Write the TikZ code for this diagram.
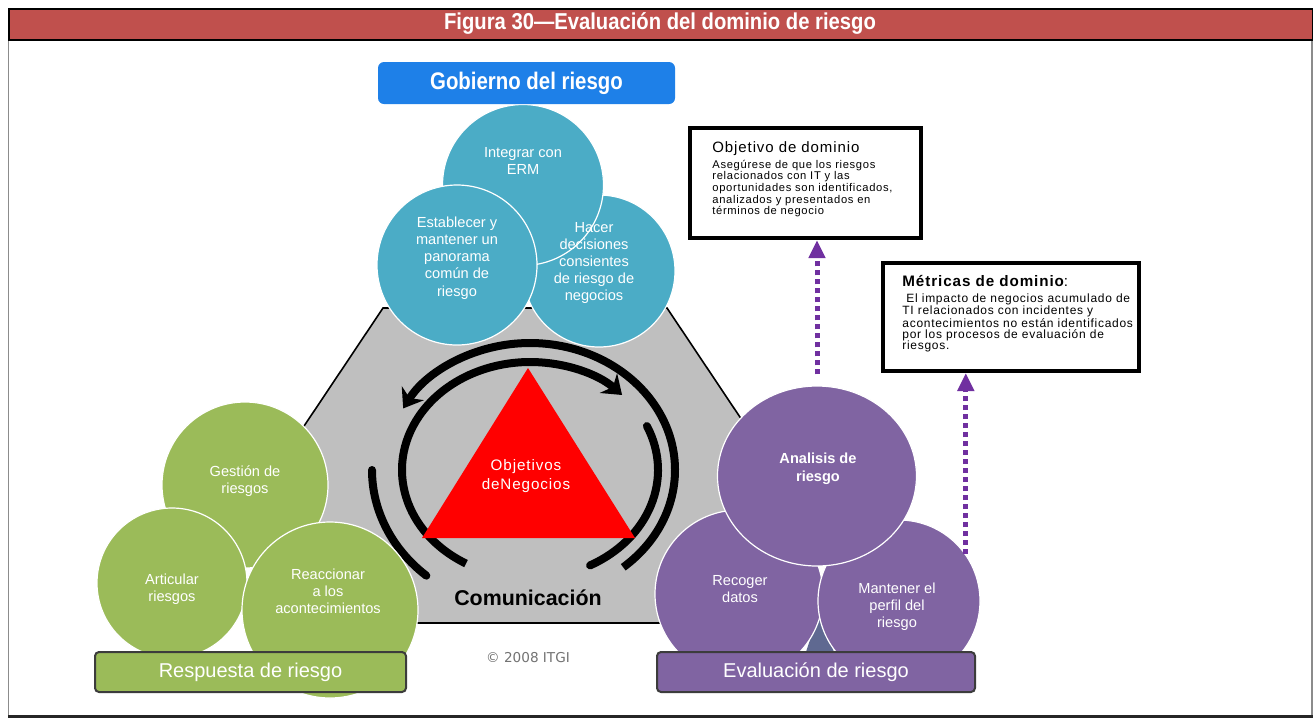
\documentclass[tikz,border=0pt]{standalone}
\usepackage{fontspec}
\setmainfont{Liberation Sans}
\newfontfamily\dejavu{DejaVu Sans}
\newfontfamily\spaced[LetterSpace=6.0]{Liberation Sans}
\usetikzlibrary{arrows.meta,shapes.geometric}
\definecolor{titlered}{RGB}{192,80,77}
\definecolor{gobblue}{RGB}{30,128,232}
\definecolor{riskteal}{RGB}{75,172,198}
\definecolor{riskgreen}{RGB}{155,187,89}
\definecolor{riskpurple}{RGB}{128,100,162}
\definecolor{hexgray}{RGB}{191,191,191}
\definecolor{arrowpurple}{RGB}{112,48,160}
\definecolor{boxedge}{RGB}{60,60,60}
\definecolor{slate}{RGB}{95,105,145}
\begin{document}
\begin{tikzpicture}[x=0.5pt,y=0.5pt,
  bubble/.style={circle, draw=white, line width=0.6pt, inner sep=0pt},
  bubtext/.style={text=white, align=center, font=\fontsize{7.3}{8.6}\selectfont},
  labelbox/.style={rectangle, rounded corners=2pt, draw=boxedge, line width=1pt,
     minimum height=20pt, text=white, font=\fontsize{10}{10}\selectfont},
  infobox/.style={rectangle, draw=black, line width=2pt, fill=white},
  ring/.style={line width=4pt, black},
  ringtip/.style={-{Stealth[length=9pt,width=13pt]}},
  dotarrow/.style={arrowpurple, line width=2.5pt, dash pattern=on 2.5pt off 2pt,
     -{Triangle[length=9pt,width=8pt]}}]
\useasboundingbox (0,0) rectangle (1313,-720);
\fill[white] (0,0) rectangle (1313,-720);

% frame and title bar
\draw[black!45, line width=0.8pt] (8.5,-40) -- (8.5,-716);
\draw[black!45, line width=0.8pt] (1312,-40) -- (1312,-716);
\draw[black!85, line width=1.4pt] (8,-716.5) -- (1313,-716.5);
\draw[fill=titlered, draw=black, line width=1pt] (8.5,-8.5) rectangle (1313,-40);
\node[text=white, font=\bfseries\fontsize{11.5}{12}\selectfont] (title) at (660,-23)
  {\scalebox{0.88}[1]{Figura 30---Evaluación del dominio de riesgo}};

% hexagon
\draw[fill=hexgray, draw=black, line width=0.8pt]
  (383,-308) -- (667,-308) -- (772,-465) -- (667,-623) -- (383,-623) -- (278,-465) -- cycle;

% rings
\coordinate (rc) at (530,-470);
\draw[ring, ringtip] ([shift={(240:128 and 108)}]rc)
  arc[start angle=240, end angle=44, x radius=128, y radius=108];
\draw[ring, ringtip] ([shift={(-50:145 and 127)}]rc)
  arc[start angle=-50, end angle=151, x radius=145, y radius=127];
\draw[ring, line cap=round] ([shift={(24:128 and 108)}]rc)
  arc[start angle=24, end angle=-62, x radius=128, y radius=108];
\draw[ring, line cap=round] ([shift={(180:158 and 140)}]rc)
  arc[start angle=180, end angle=229, x radius=158, y radius=140];

% red triangle
\fill[red] (528,-368) -- (422,-538) -- (635,-538) -- cycle;
\node[bubtext, font=\spaced\fontsize{7.6}{9.2}\selectfont] (objneg) at (526,-476) {Objetivos\\deNegocios};
\node[font=\bfseries\fontsize{10.7}{12}\selectfont] (com) at (528,-598) {Comunicación};
\node[font=\dejavu\fontsize{6.8}{8}\selectfont, text=black!55] (copy) at (528,-658) {© 2008 ITGI};

% governance circles
\node[bubble, fill=riskteal, minimum size=76pt] (hac) at (599,-271) {};
\node[bubble, fill=riskteal, minimum size=80.5pt] (int) at (523,-185) {};
\node[bubble, fill=riskteal, minimum size=80pt] (est) at (457,-265) {};
\node[bubtext] (tint) at (523,-161) {Integrar con\\ERM};
\node[bubtext] (test) at (457,-258) {Establecer y\\mantener un\\panorama\\común de\\riesgo};
\node[bubtext] (thac) at (594,-263) {Hacer\\decisiones\\consientes\\de riesgo de\\negocios};
\node[rectangle, rounded corners=3pt, fill=gobblue, minimum width=148.5pt, minimum height=21pt,
  text=white, font=\bfseries\fontsize{12}{12}\selectfont] (gob) at (526.5,-83)
  {\scalebox{0.85}[1]{Gobierno del riesgo}};

% response circles
\node[bubble, fill=riskgreen, minimum size=83pt] (ges) at (245,-485) {};
\node[bubble, fill=riskgreen, minimum size=75pt] (art) at (172,-583) {};
\node[bubble, fill=riskgreen, minimum size=88pt] (rea) at (330,-610) {};
\node[bubtext] (tges) at (245,-481) {Gestión de\\riesgos};
\node[bubtext] (tart) at (172,-589) {Articular\\riesgos};
\node[bubtext] (trea) at (328,-591) {Reaccionar\\a los\\acontecimientos};
\node[labelbox, fill=riskgreen, minimum width=155.5pt] (resp) at (250.5,-672) {Respuesta de riesgo};

% evaluation circles
\fill[slate] (819,-612) -- (806,-652) -- (834,-652) -- cycle;
\node[bubble, fill=riskpurple, minimum size=84pt] (rec) at (739,-594) {};
\node[bubble, fill=riskpurple, minimum size=81pt] (man) at (899,-601) {};
\node[ellipse, draw=white, line width=0.6pt, fill=riskpurple, minimum width=99.5pt,
  minimum height=90pt, inner sep=0pt] (ana) at (817,-476) {};
\node[bubtext, font=\bfseries\fontsize{7.3}{8.8}\selectfont] (tana) at (818,-469) {Analisis de\\riesgo};
\node[bubtext] (trec) at (740,-589) {Recoger\\datos};
\node[bubtext] (tman) at (897,-607) {Mantener el\\perfil del\\riesgo};
\node[labelbox, fill=riskpurple, minimum width=159pt] (eval) at (816,-672) {Evaluación de riesgo};

% info boxes
\node[infobox, minimum width=115.5pt, minimum height=55pt] (obj) at (805.5,-183) {};
\node[anchor=north west, inner sep=0pt, align=left, font=\spaced\fontsize{5.6}{5.8}\selectfont]
  (objtxt) at (712,-141)
  {{\fontsize{7.5}{8}\selectfont Objetivo de dominio}\\[2.2pt]
   Asegúrese de que los riesgos\\relacionados con IT y las\\oportunidades son identificados,\\
   analizados y presentados en\\términos de negocio};
\node[infobox, minimum width=128pt, minimum height=54pt] (met) at (1011,-317) {};
\node[anchor=north west, inner sep=0pt, align=left, font=\spaced\fontsize{6}{5.6}\selectfont]
  (mettxt) at (902,-275)
  {{\bfseries\fontsize{7.6}{8}\selectfont Métricas de dominio}{\fontsize{7.6}{8}\selectfont:}\\[2.6pt]
   \ El impacto de negocios acumulado de\\TI relacionados con incidentes y\\
   acontecimientos no están identificados\\por los procesos de evaluación de\\riesgos.};

% dotted arrows
\draw[dotarrow] ([yshift=5.5pt]ana.north) -- (ana.north |- obj.south);
\draw[dotarrow] (man.35) -- (man.35 |- met.south);
\end{tikzpicture}
\end{document}
